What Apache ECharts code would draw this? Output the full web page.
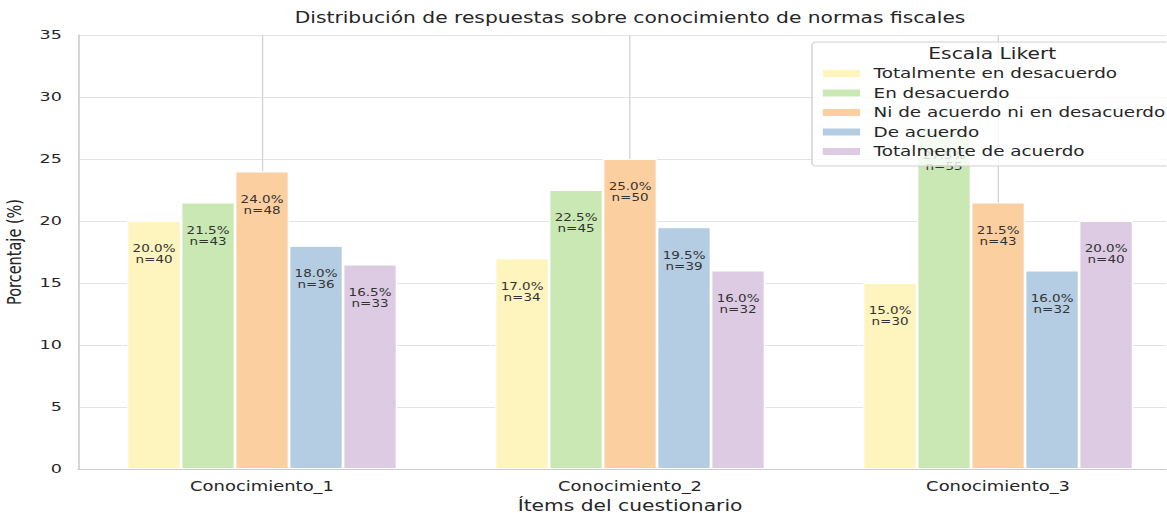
<!DOCTYPE html>
<html>
<head>
<meta charset="utf-8">
<script src="https://cdn.jsdelivr.net/npm/echarts@6/dist/echarts.min.js"></script>
<style>
  html, body { margin: 0; padding: 0; background: #fff; overflow: hidden; }
  /* la figura original está estirada en horizontal */
  #chart {
    width: 864.4px;
    height: 513px;
    transform: scaleX(1.35);
    transform-origin: 0 0;
  }
</style>
</head>
<body>
<div id="chart"></div>
<script>
// categorías del eje x
const items = ['Conocimiento_1', 'Conocimiento_2', 'Conocimiento_3']
// escala Likert
const levels = [
  'Totalmente en desacuerdo',
  'En desacuerdo',
  'Ni de acuerdo ni en desacuerdo',
  'De acuerdo',
  'Totalmente de acuerdo'
]
// porcentajes por nivel (uno por ítem)
const totDesacuerdo = [20.0, 17.0, 15.0]
const desacuerdo = [21.5, 22.5, 27.5]
const neutral = [24.0, 25.0, 21.5]
const acuerdo = [18.0, 19.5, 16.0]
const totAcuerdo = [16.5, 16.0, 20.0]
// recuentos n
const nTotDesacuerdo = [40, 34, 30]
const nDesacuerdo = [43, 45, 55]
const nNeutral = [48, 50, 43]
const nAcuerdo = [36, 39, 32]
const nTotAcuerdo = [33, 32, 40]
// eje y
const yTicks = [0, 5, 10, 15, 20, 25, 30, 35]

const values = [totDesacuerdo, desacuerdo, neutral, acuerdo, totAcuerdo]
const counts = [nTotDesacuerdo, nDesacuerdo, nNeutral, nAcuerdo, nTotAcuerdo]
const colors = ['#fef4bd', '#c9e8b3', '#fccfa0', '#b4cde2', '#ddcbe4']

const chart = echarts.init(document.getElementById('chart'), null, { renderer: 'svg' })

const font = 'DejaVu Sans'

const series = levels.map((name, i) => ({
  name: name,
  type: 'bar',
  barWidth: 40,
  barGap: '0%',
  data: values[i],
  itemStyle: {
    color: colors[i],
    borderColor: '#ffffff',
    borderWidth: 1
  },
  label: {
    show: true,
    position: 'insideTop',
    distance: 22.5,
    fontFamily: font,
    fontSize: 10,
    lineHeight: 11,
    color: '#333333',
    formatter: p => p.value.toFixed(1) + '%\nn=' + counts[i][p.dataIndex]
  },
  // líneas verticales de la rejilla, en el centro de cada ítem (serie central)
  markLine: i === 2 ? {
    silent: true,
    symbol: 'none',
    z: 1,
    label: { show: false },
    lineStyle: { color: '#d4d4d4', width: 1, type: 'solid' },
    data: items.map(c => ({ xAxis: c }))
  } : undefined
}))

const option = {
  animation: false,
  textStyle: { fontFamily: font },
  grid: {
    left: 57.8,
    top: 35,
    width: 817.8,
    bottom: 44,
    outerBoundsMode: 'none'
  },
  xAxis: {
    type: 'category',
    data: items,
    name: 'Ítems del cuestionario',
    nameLocation: 'middle',
    nameGap: 28,
    nameTextStyle: { fontSize: 15, color: '#262626', fontFamily: font },
    axisTick: { show: false },
    axisLine: { lineStyle: { color: '#cccccc', width: 1.2 } },
    axisLabel: { fontSize: 13.3, color: '#262626', margin: 11, fontFamily: font },
    splitLine: { show: false }
  },
  yAxis: {
    type: 'value',
    min: yTicks[0],
    max: yTicks[yTicks.length - 1],
    interval: 5,
    name: 'Porcentaje (%)',
    nameLocation: 'middle',
    nameGap: 29,
    nameTextStyle: { fontSize: 14.5, color: '#262626', fontFamily: font },
    axisLine: { show: true, lineStyle: { color: '#cccccc', width: 1.2 } },
    axisTick: { show: false },
    axisLabel: { fontSize: 13, color: '#262626', margin: 12, fontFamily: font },
    splitLine: { lineStyle: { color: '#e3e3e3', width: 1 } }
  },
  legend: {
    orient: 'vertical',
    left: 601.5,
    top: 42,
    padding: [23, 6, 6, 6],
    itemWidth: 29.6,
    itemHeight: 9,
    itemGap: 2.5,
    icon: 'rect',
    backgroundColor: 'rgba(255,255,255,0.8)',
    borderColor: '#d0d0d0',
    borderWidth: 1,
    borderRadius: 3,
    data: levels,
    textStyle: {
      fontFamily: font,
      fontSize: 13.6,
      lineHeight: 17,
      color: '#262626',
      padding: [0, 0, 0, 4]
    }
  },
  graphic: [
    {
      type: 'text',
      x: 466.7,
      y: 18,
      z: 100,
      style: {
        text: 'Distribución de respuestas sobre conocimiento de normas fiscales',
        font: '15px "DejaVu Sans"',
        fill: '#262626',
        align: 'center',
        verticalAlign: 'middle'
      }
    },
    {
      type: 'text',
      x: 735,
      y: 54,
      z: 100,
      style: {
        text: 'Escala Likert',
        font: '15px "DejaVu Sans"',
        fill: '#262626',
        align: 'center',
        verticalAlign: 'middle'
      }
    }
  ],
  series: series
}

chart.setOption(option)
</script>
</body>
</html>
